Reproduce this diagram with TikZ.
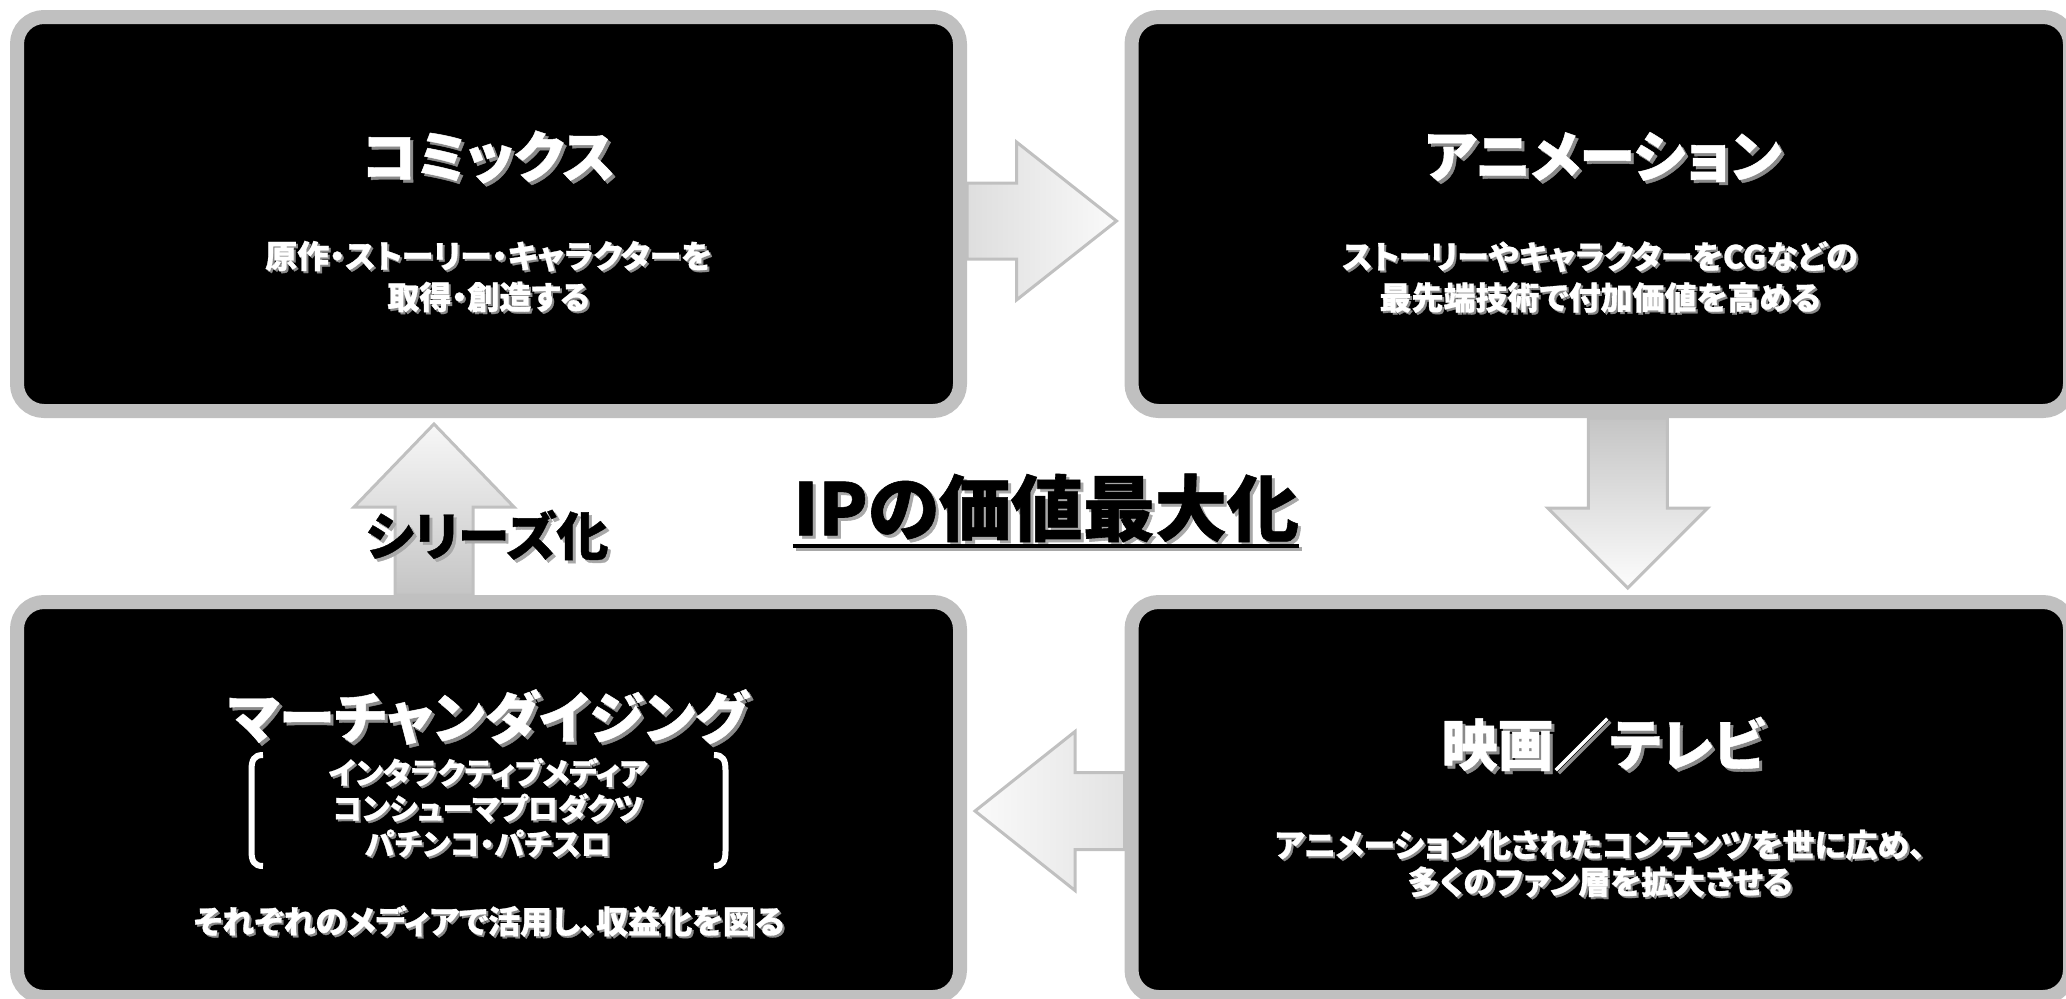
\documentclass[tikz,border=0pt]{standalone}
\usepackage{fontspec}
\newfontfamily\jp{Noto Sans CJK JP}[RawFeature=+palt, BoldFeatures={FakeBold=0.8}]
\usetikzlibrary{calc,backgrounds}
\definecolor{boxgray}{HTML}{C0C0C0}
\definecolor{shadowgray}{HTML}{8A8A8A}
\definecolor{titleshadow}{HTML}{A8A8A8}
% #1 name, #2 position, #3 style, #4 shadow offset, #5 shadow colour, #6 text
\newcommand\shnode[6]{%
  \node[#3, text=#5] (#1s) at ($(#2)+(#4)$) {#6};
  \node[#3] (#1) at (#2) {#6};}
\begin{document}
\begin{tikzpicture}[x=0.5pt,y=-0.5pt,
  box/.style={fill=black, draw=boxgray, line width=7pt, rounded corners=13.5pt,
    inner sep=0pt, minimum height=197pt},
  barrow/.style={draw=boxgray, line width=1.5pt, line join=miter},
  ttl/.style={inner sep=0pt, align=center, text=white,
    font=\jp\bfseries\fontsize{28pt}{32pt}\selectfont},
  sub/.style={inner sep=0pt, align=center, text=white,
    font=\jp\bfseries\fontsize{16pt}{20.5pt}\selectfont},
  subb/.style={inner sep=0pt, align=center, text=white,
    font=\jp\bfseries\fontsize{16pt}{18.5pt}\selectfont},
  small/.style={inner sep=0pt, align=center, text=white,
    font=\jp\bfseries\fontsize{15pt}{17.75pt}\selectfont},
  ser/.style={inner sep=0pt, text=black,
    font=\jp\bfseries\fontsize{26pt}{30pt}\selectfont},
  big/.style={inner sep=0pt, text=black,
    font=\jp\bfseries\fontsize{36pt}{40pt}\selectfont},
  bracket/.style={draw=white, line width=3pt}
]
\path[use as bounding box] (0,0) rectangle (2066,998);
\clip (0,0) rectangle (2066,998);

% boxes
\node[box, minimum width=471.5pt] (tl) at (488.5,214) {};
\node[box, minimum width=469.25pt] (tr) at (1600.75,214) {};
\node[box, minimum width=471.5pt, minimum height=197.5pt] (bl) at (488.5,799.5) {};
\node[box, minimum width=469.25pt, minimum height=197.5pt] (br) at (1600.75,799.5) {};

% block arrows (behind the boxes)
\coordinate (raS) at ($(tl.east)+(0,7)$);
\coordinate (raT) at ($(tr.west)+(-8,7)$);
\coordinate (daS) at ($(tr.south)+(27,0)$);
\coordinate (daT) at ($(br.north)+(27,-7)$);
\coordinate (laS) at ($(br.west)+(0,11.5)$);
\coordinate (laT) at ($(bl.east)+(8,11.5)$);
\coordinate (uaS) at ($(bl.north)+(-54.5,0)$);
\coordinate (uaT) at ($(tl.south)+(-54.5,6)$);
\begin{pgfonlayer}{background}
\path[barrow, left color=black!13, right color=black!2]
  ($(raS)+(0,-38)$) -- ($(raT)+(-100,-38)$) -- ($(raT)+(-100,-79)$) -- (raT)
  -- ($(raT)+(-100,79)$) -- ($(raT)+(-100,38)$) -- ($(raS)+(0,38)$) -- cycle;
\path[barrow, top color=black!23, bottom color=black!1]
  ($(daS)+(-39.5,0)$) -- ($(daT)+(-39.5,-80)$) -- ($(daT)+(-80,-80)$) -- (daT)
  -- ($(daT)+(80,-80)$) -- ($(daT)+(39.5,-80)$) -- ($(daS)+(39.5,0)$) -- cycle;
\path[barrow, right color=black!11, left color=black!2]
  ($(laS)+(0,-38.5)$) -- ($(laT)+(100,-38.5)$) -- ($(laT)+(100,-79.5)$) -- (laT)
  -- ($(laT)+(100,79.5)$) -- ($(laT)+(100,38.5)$) -- ($(laS)+(0,38.5)$) -- cycle;
\path[barrow, bottom color=black!23, top color=black!3]
  ($(uaS)+(-39,0)$) -- ($(uaT)+(-39,83)$) -- ($(uaT)+(-80,83)$) -- (uaT)
  -- ($(uaT)+(80,83)$) -- ($(uaT)+(39,83)$) -- ($(uaS)+(39,0)$) -- cycle;
\end{pgfonlayer}

% texts
\shnode{tlT}{488.5,157}{ttl}{3,3}{shadowgray}{コミックス}
\shnode{tlS}{488.5,276.5}{sub}{2,2}{shadowgray}{原作・ストーリー・キャラクターを\\取得・創造する}
\shnode{trT}{1603,157}{ttl}{3,3}{shadowgray}{アニメーション}
\shnode{trS}{1600,277}{sub}{2,2}{shadowgray}{ストーリーやキャラクターをCGなどの\\最先端技術で付加価値を高める}
\shnode{blT}{488,717}{ttl}{3,3}{shadowgray}{マーチャンダイジング}
\shnode{blL}{488,807.5}{small}{2,2}{shadowgray}{インタラクティブメディア\\コンシューマプロダクツ\\パチンコ・パチスロ}
\shnode{blS}{489,921}{sub}{2,2}{shadowgray}{それぞれのメディアで活用し、収益化を図る}
\shnode{brT}{1603,744}{ttl}{3,3}{shadowgray}{映画／テレビ}
\shnode{brS}{1600,863.5}{subb}{2,2}{shadowgray}{アニメーション化されたコンテンツを世に広め、\\多くのファン層を拡大させる}
\shnode{ser}{487,535}{ser}{3,3}{titleshadow}{シリーズ化}
\shnode{ip}{1046,508}{big}{3,3}{titleshadow}{IPの価値最大化}
\draw[titleshadow, line width=2pt] ($(ip.base west)+(3,14)$) -- ($(ip.base east)+(3,14)$);
\draw[black, line width=2pt] ($(ip.base west)+(0,11)$) -- ($(ip.base east)+(0,11)$);

% brackets
\draw[bracket] (263,755) .. controls (254,755) and (251.5,760) .. (251.5,770)
  -- (251.5,851) .. controls (251.5,861) and (254,866) .. (263,866);
\draw[bracket] (714,755) .. controls (723,755) and (725.5,760) .. (725.5,770)
  -- (725.5,851) .. controls (725.5,861) and (723,866) .. (714,866);
\end{tikzpicture}
\end{document}
